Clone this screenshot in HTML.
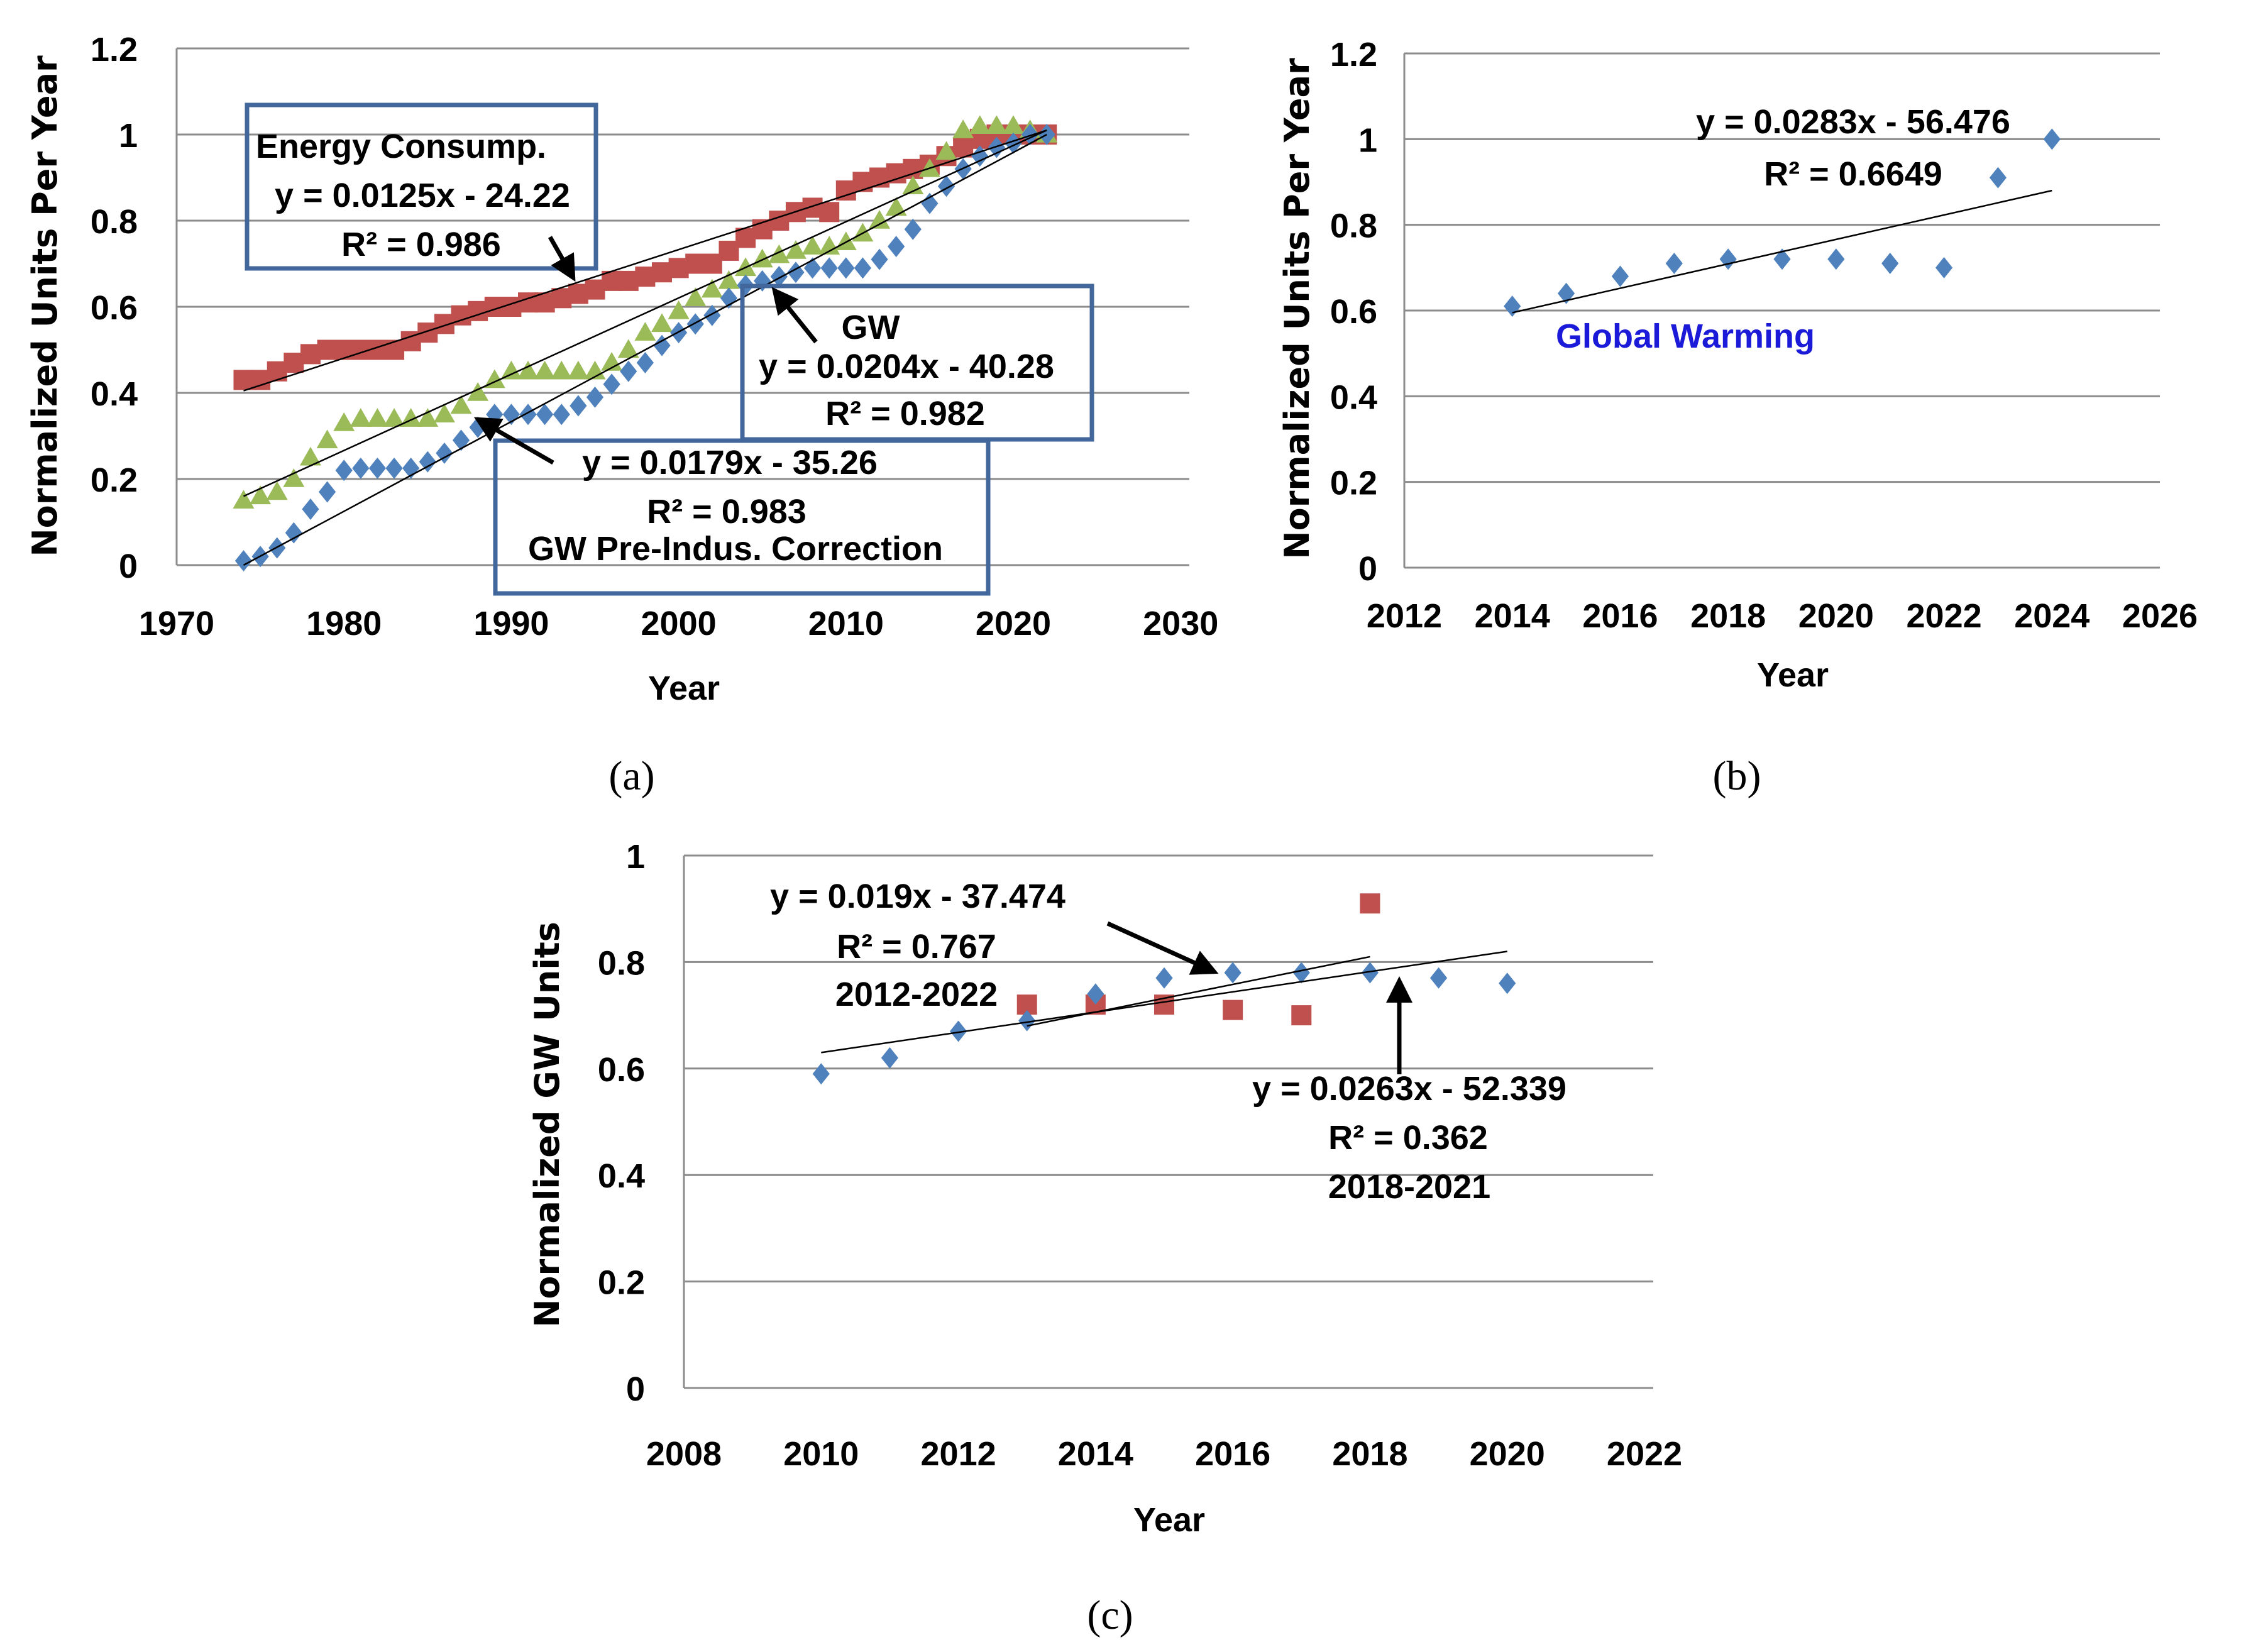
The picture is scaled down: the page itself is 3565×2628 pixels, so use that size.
<!DOCTYPE html>
<html><head><meta charset="utf-8"><style>
html,body{margin:0;padding:0;background:#fff}
svg{display:block}
.t{font-family:"Liberation Sans Narrow","Liberation Sans",sans-serif;font-weight:bold;font-size:54px;fill:#000}
.ax{font-family:"DejaVu Sans","Liberation Sans",sans-serif;font-weight:bold;font-size:54px;fill:#000}
.cap{font-family:"Liberation Serif",serif;font-size:66px;fill:#000}
</style></head><body>
<svg id="s" width="3565" height="2628" xmlns="http://www.w3.org/2000/svg">
<defs><marker id="ah" markerWidth="6" markerHeight="6" refX="5" refY="3" orient="auto" markerUnits="strokeWidth"><path d="M0,0 L6,3 L0,6 z" fill="#000"/></marker></defs>
</svg>
<script>
// ---- chart (a) data ----
const aYears=[1974,1975,1976,1977,1978,1979,1980,1981,1982,1983,1984,1985,1986,1987,1988,1989,1990,1991,1992,1993,1994,1995,1996,1997,1998,1999,2000,2001,2002,2003,2004,2005,2006,2007,2008,2009,2010,2011,2012,2013,2014,2015,2016,2017,2018,2019,2020,2021,2022];
const aRed=[0.43,0.43,0.45,0.47,0.49,0.5,0.5,0.5,0.5,0.5,0.52,0.54,0.56,0.58,0.59,0.6,0.6,0.61,0.61,0.62,0.63,0.64,0.66,0.66,0.67,0.68,0.69,0.7,0.7,0.73,0.76,0.78,0.8,0.82,0.83,0.82,0.87,0.89,0.9,0.91,0.92,0.93,0.95,0.97,0.99,1.0,1.0,1.0,1.0];
const aGreen=[0.15,0.16,0.17,0.2,0.25,0.29,0.33,0.34,0.34,0.34,0.34,0.34,0.35,0.37,0.4,0.43,0.45,0.45,0.45,0.45,0.45,0.45,0.47,0.5,0.54,0.56,0.59,0.62,0.64,0.66,0.69,0.71,0.72,0.73,0.74,0.74,0.75,0.77,0.8,0.83,0.88,0.92,0.96,1.01,1.02,1.02,1.02,1.01,1.0];
const aBlue=[0.01,0.02,0.04,0.075,0.13,0.17,0.22,0.225,0.225,0.225,0.225,0.24,0.26,0.29,0.32,0.35,0.35,0.35,0.35,0.35,0.37,0.39,0.42,0.45,0.47,0.51,0.54,0.56,0.58,0.62,0.65,0.66,0.67,0.68,0.69,0.69,0.69,0.69,0.71,0.74,0.78,0.84,0.88,0.92,0.95,0.97,0.98,1.0,1.0];
const aTrendX=[1974,2022];
const aTrendRed=[0.405,1.01];
const aTrendGreen=[0.16,1.01];
const aTrendBlue=[0.0,1.0];
const aXTicks=[1970,1980,1990,2000,2010,2020,2030];
const aYTicks=[0,0.2,0.4,0.6,0.8,1,1.2];
// ---- chart (b) data ----
const bYears=[2014,2015,2016,2017,2018,2019,2020,2021,2022,2023,2024];
const bVals=[0.61,0.64,0.68,0.71,0.72,0.72,0.72,0.71,0.70,0.91,1.0];
const bTrendX=[2014,2024];
const bTrendY=[0.595,0.88];
const bXTicks=[2012,2014,2016,2018,2020,2022,2024,2026];
const bYTicks=[0,0.2,0.4,0.6,0.8,1,1.2];
// ---- chart (c) data ----
const cBlueYears=[2010,2011,2012,2013,2014,2015,2016,2017,2018,2019,2020];
const cBlue=[0.59,0.62,0.67,0.69,0.74,0.77,0.78,0.78,0.78,0.77,0.76];
const cRedYears=[2013,2014,2015,2016,2017,2018];
const cRed=[0.72,0.72,0.72,0.71,0.70,0.91];
const cTrend1X=[2010,2020], cTrend1Y=[0.63,0.82];
const cTrend2X=[2013,2018], cTrend2Y=[0.68,0.81];
const cXTicks=[2008,2010,2012,2014,2016,2018,2020,2022];
const cYTicks=[0,0.2,0.4,0.6,0.8,1];

const S=document.getElementById('s');
const NS='http://www.w3.org/2000/svg';
function el(tag,attrs,parent){const e=document.createElementNS(NS,tag);for(const k in attrs)e.setAttribute(k,attrs[k]);(parent||S).appendChild(e);return e;}
function txt(x,y,s,cls,anchor,parent,fill){const e=el('text',{x:x,y:y,class:cls,'text-anchor':anchor||'middle'},parent);if(fill)e.setAttribute('fill',fill);e.textContent=s;return e;}
function axis(x0,x1,v0,v1){return v=>x0+(v-v0)/(v1-v0)*(x1-x0);}
const BLUE='#4f81bd',RED='#c0504d',GREEN='#9bbb59';
function diamond(g,x,y,r){const e=el('polygon',{points:`${x},${y-r} ${x+r*0.8},${y} ${x},${y+r} ${x-r*0.8},${y}`,fill:BLUE},g);}
function square(g,x,y,h){const e=el('rect',{x:x-h,y:y-h,width:2*h,height:2*h,fill:RED},g);}
function tri(g,x,y,r){const e=el('polygon',{points:`${x},${y-r} ${x+r},${y+r*0.75} ${x-r},${y+r*0.75}`,fill:GREEN},g);}
function grid(g,X,Y,yt,xl,xr,lblX){
  yt.forEach(v=>{const l=el('line',{x1:xl,x2:xr,y1:Y(v),y2:Y(v),stroke:'#8c8c8c','stroke-width':3},g);
    const t=txt(lblX,Y(v)+20,String(v),'t','end',g);t.setAttribute('font-size','58');});
  const a=el('line',{x1:xl,x2:xl,y1:Y(yt[yt.length-1]),y2:Y(0),stroke:'#8c8c8c','stroke-width':3},g);
}
function arrow(g,x1,y1,x2,y2){const l=el('line',{x1,y1,x2,y2,stroke:'#000','stroke-width':7,'marker-end':'url(#ah)'},g);}
function trend(g,X,Y,xs,ys){const l=el('line',{x1:X(xs[0]),y1:Y(ys[0]),x2:X(xs[1]),y2:Y(ys[1]),stroke:'#000','stroke-width':2.5},g);}
function box(g,x,y,w,h){const r=el('rect',{x,y,width:w,height:h,fill:'none',stroke:'#41679d','stroke-width':7},g);}

// ===== Chart (a) =====
{
const g=el('g',{});
const X=axis(281,1612,1970,2020), Y=axis(899,77,0,1.2);
grid(g,X,Y,aYTicks,281,1892,219);
aXTicks.forEach(v=>{const t=txt(X(v),1010,String(v),'t','middle',g);t.setAttribute('font-size','58');});
aYears.forEach((yr,i)=>square(g,X(yr),Y(aRed[i]),16));
aYears.forEach((yr,i)=>tri(g,X(yr),Y(aGreen[i]),17));
aYears.forEach((yr,i)=>diamond(g,X(yr),Y(aBlue[i]),17));
trend(g,X,Y,aTrendX,aTrendRed);trend(g,X,Y,aTrendX,aTrendGreen);trend(g,X,Y,aTrendX,aTrendBlue);
box(g,393,167,555,260);box(g,1181,455,556,244);box(g,788,701,784,243);
txt(407,251,'Energy Consump.','t','start',g);
txt(672,329,'y = 0.0125x - 24.22','t','middle',g);
txt(670,407,'R² = 0.986','t','middle',g);
txt(1385,539,'GW','t','middle',g);
txt(1442,601,'y = 0.0204x - 40.28','t','middle',g);
txt(1440,676,'R² = 0.982','t','middle',g);
txt(1161,754,'y = 0.0179x - 35.26','t','middle',g);
txt(1156,832,'R² = 0.983','t','middle',g);
txt(1170,891,'GW Pre-Indus. Correction','t','middle',g);
arrow(g,875,377,912,442);arrow(g,1298,544,1232,462);arrow(g,880,736,760,667);
const yt=txt(0,0,'Normalized  Units Per Year','ax','middle',g);yt.setAttribute('transform','translate(90,487) rotate(-90)');
const xt=txt(1088,1113,'Year','t','middle',g);
const cp=txt(1005,1256,'(a)','cap','middle',g);
}
// ===== Chart (b) =====
{
const g=el('g',{});
const X=axis(2234,3436,2012,2026), Y=axis(903,85,0,1.2);
grid(g,X,Y,bYTicks,2234,3436,2191);
bXTicks.forEach(v=>{const t=txt(X(v),998,String(v),'t','middle',g);t.setAttribute('font-size','50');});
bYears.forEach((yr,i)=>diamond(g,X(yr),Y(bVals[i]),17));
trend(g,X,Y,bTrendX,bTrendY);
txt(2948,212,'y = 0.0283x - 56.476','t','middle',g);
txt(2948,295,'R² = 0.6649','t','middle',g);
const gw=txt(2475,553,'Global Warming','t','start',g,'#1a1ad8');gw.setAttribute('style','fill:#1a1ad8');
const yt=txt(0,0,'Normalized  Units Per Year','ax','middle',g);yt.setAttribute('transform','translate(2082,491) rotate(-90)');
const xt=txt(2852,1092,'Year','t','middle',g);
const cp=txt(2763,1256,'(b)','cap','middle',g);
}
// ===== Chart (c) =====
{
const g=el('g',{});
const X=axis(1088,2616,2008,2022), Y=axis(2208,1361,0,1);
grid(g,X,Y,cYTicks,1088,2630,1026);
cXTicks.forEach(v=>{const t=txt(X(v),2331,String(v),'t','middle',g);t.setAttribute('font-size','58');});
cRedYears.forEach((yr,i)=>square(g,X(yr),Y(cRed[i]),16));
cBlueYears.forEach((yr,i)=>diamond(g,X(yr),Y(cBlue[i]),17));
trend(g,X,Y,cTrend1X,cTrend1Y);trend(g,X,Y,cTrend2X,cTrend2Y);
txt(1460,1444,'y = 0.019x - 37.474','t','middle',g);
txt(1458,1524,'R² = 0.767','t','middle',g);
txt(1458,1600,'2012-2022','t','middle',g);
txt(2242,1750,'y = 0.0263x - 52.339','t','middle',g);
txt(2240,1828,'R² = 0.362','t','middle',g);
txt(2242,1906,'2018-2021','t','middle',g);
arrow(g,1762,1469,1932,1546);arrow(g,2226,1709,2226,1560);
const yt=txt(0,0,'Normalized  GW Units','ax','middle',g);yt.setAttribute('transform','translate(889,1789) rotate(-90)');
const xt=txt(1860,2436,'Year','t','middle',g);
const cp=txt(1766,2591,'(c)','cap','middle',g);
}
</script>
</body></html>
